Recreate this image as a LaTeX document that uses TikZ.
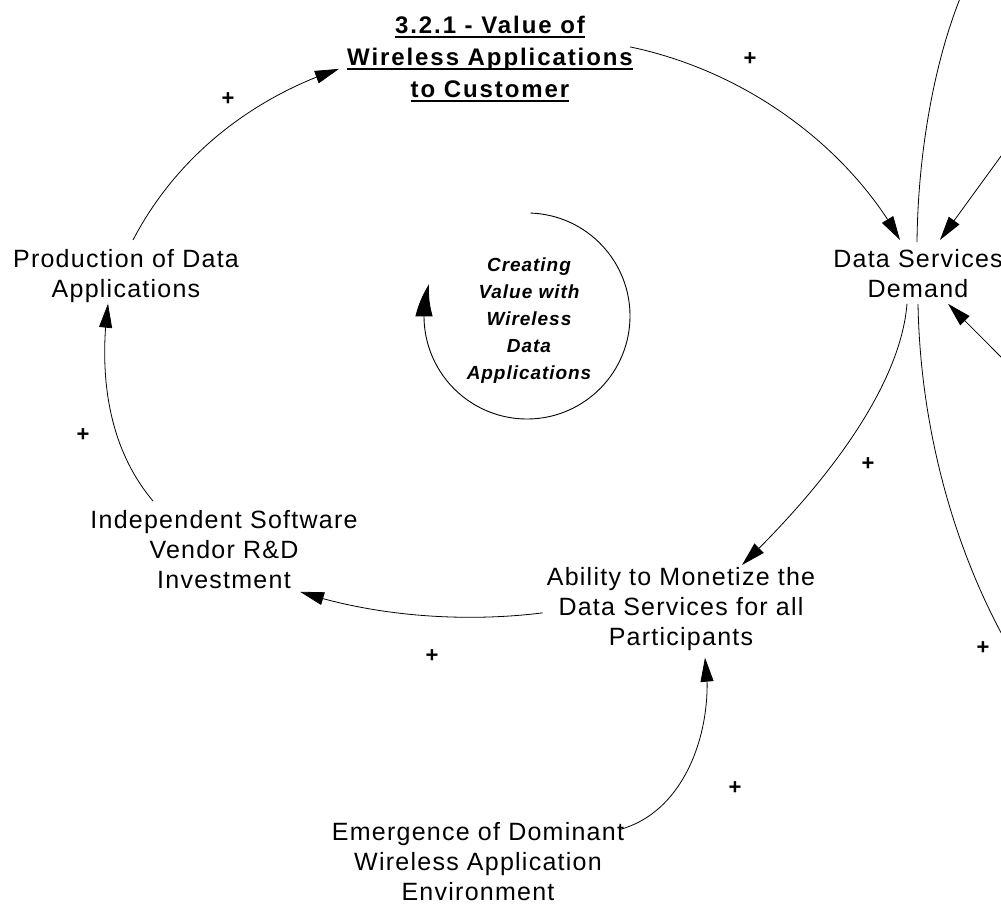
\documentclass[tikz,border=0pt]{standalone}
\usepackage{fontspec}
\setmainfont{Liberation Sans}
\newfontfamily\varfont[LetterSpace=5]{Liberation Sans}
\newfontfamily\titlefont[LetterSpace=8]{Liberation Sans}
\newfontfamily\loopfont[LetterSpace=5]{Liberation Sans}
\usetikzlibrary{arrows.meta,bending}

% underline drawn at a fixed depth, independent of descenders
\newcommand\tul[1]{\setbox0\hbox{#1}\rlap{\rule[-4pt]{\wd0}{1.8pt}}\box0}

\begin{document}
\begin{tikzpicture}[x=1pt,y=-1pt,
  var/.style={align=center, inner sep=0pt, anchor=north,
    font=\varfont\fontsize{25}{30}\selectfont},
  ttl/.style={align=center, inner sep=0pt, anchor=north,
    font=\titlefont\bfseries\fontsize{24}{32}\selectfont},
  looplabel/.style={align=center, inner sep=0pt,
    font=\loopfont\bfseries\itshape\fontsize{19}{27}\selectfont},
  link/.style={line width=0.8pt, -{Triangle[length=24pt,width=13pt]}},
  plainlink/.style={line width=0.8pt},
  loopline/.style={line width=0.9pt, -{Triangle[length=33pt,width=17pt,bend]}},
  plus/.style={inner sep=0pt, font=\bfseries\fontsize{22}{22}\selectfont}]

\useasboundingbox (0,0) rectangle (1001,915);
\fill[white] (0,0) rectangle (1001,915);
\clip (0,0) rectangle (1001,915);

% variables
\node[ttl] (title) at (490,16)
  {\tul{3.2.1 - Value of}\\\tul{Wireless Applications}\\\tul{to Customer}};
\node[var] (prod) at (126,249) {Production of Data\\Applications};
\node[var] (dsd) at (918,249) {Data Services\\Demand};
\node[var] (isv) at (224,510) {Independent Software\\Vendor R\&D\\Investment};
\node[var] (ability) at (681,567) {Ability to Monetize the\\Data Services for all\\Participants};
\node[var] (emerg) at (478,822) {Emergence of Dominant\\Wireless Application\\Environment};

% loop identifier
\coordinate (loopc) at (527,316);
\node[looplabel] (looplbl) at (529,321) {Creating\\Value with\\Wireless\\Data\\Applications};
\draw[loopline] (loopc) ++(-88:103) arc[start angle=-88, end angle=198, radius=103];

% links leaving the drawing area
\coordinate (topfree) at (961,-4);
\coordinate (botfree) at (1005,640);
\coordinate (rtop) at (1004,152);
\coordinate (rbot) at (1004,360);

% causal links
\draw[link] ([xshift=-3pt,yshift=12pt]title.east)
  .. controls (750,72) and (850,150) .. ([xshift=-18pt,yshift=9pt]dsd.north);
\draw[link] ([xshift=7pt,yshift=9pt]prod.north)
  .. controls (180,150) and (260,95) .. ([xshift=-8pt,yshift=-10pt]title.west);
\draw[link] ([xshift=-71pt,yshift=9pt]isv.north)
  .. controls (110,450) and (98,380) .. ([xshift=-18pt,yshift=-1pt]prod.south);
\draw[link] ([xshift=-4pt,yshift=-4pt]ability.west)
  .. controls (470,622) and (380,618) .. ([xshift=76pt,yshift=-3pt]isv.south);
\draw[link] ([xshift=-11pt,yshift=-6pt]dsd.south)
  .. controls (900,390) and (820,490) .. ([xshift=61pt,yshift=2pt]ability.north);
\draw[link] ([xshift=-4pt,yshift=32pt]emerg.east)
  .. controls (690,810) and (715,720) .. ([xshift=24pt,yshift=-7pt]ability.south);
\draw[link] (rtop) -- ([xshift=22pt,yshift=9pt]dsd.north);
\draw[plainlink] ([xshift=-1pt,yshift=7pt]dsd.north)
  .. controls (918,150) and (935,60) .. (topfree);
\draw[plainlink] ([yshift=-6pt]dsd.south)
  .. controls (920,420) and (950,540) .. (botfree);
\draw[link] (rbot) -- ([xshift=30pt,yshift=-6pt]dsd.south);

% link polarities
\node[plus] (s1) at (228,99) {+};
\node[plus] (s2) at (750,59) {+};
\node[plus] (s3) at (83,435) {+};
\node[plus] (s4) at (868,464) {+};
\node[plus] (s5) at (432,656) {+};
\node[plus] (s6) at (983,648) {+};
\node[plus] (s7) at (735,788) {+};
\end{tikzpicture}
\end{document}
